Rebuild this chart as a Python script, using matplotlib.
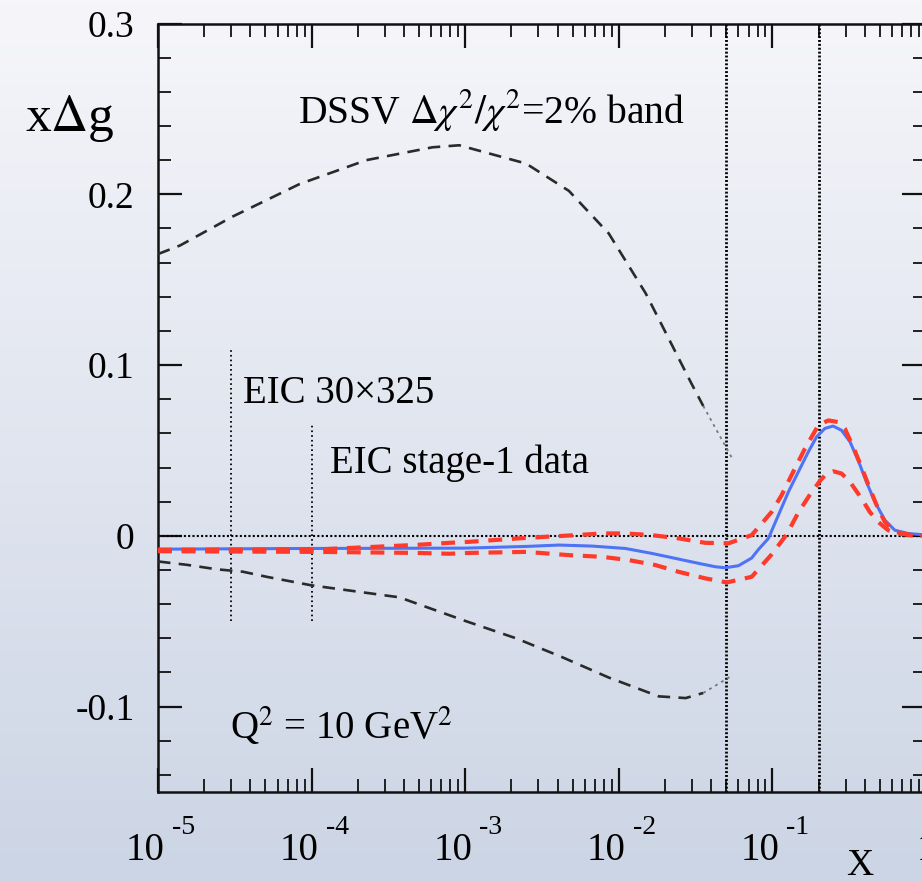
import numpy as np
import matplotlib
matplotlib.use("Agg")
import matplotlib.pyplot as plt
from matplotlib import transforms
from matplotlib.ticker import LogLocator, MultipleLocator, FixedLocator, NullFormatter

plt.rcParams['font.family'] = ['Liberation Serif', 'DejaVu Serif']
plt.rcParams['mathtext.fontset'] = 'stix'
plt.rcParams['lines.scale_dashes'] = False

# ---------------- data (x given as log10(x)) ----------------
upper_dssv_logx = [-5.0, -4.857, -4.513, -4.078, -3.643, -3.214, -3.039, -2.604,
                   -2.325, -2.065, -1.825, -1.740, -1.526, -1.45, -1.266]
upper_dssv_y = [0.165, 0.170, 0.187, 0.206, 0.220, 0.2275, 0.2287, 0.218,
                0.202, 0.177, 0.142, 0.127, 0.089, 0.076, 0.046]

lower_dssv_logx = [-5.0, -4.81, -4.617, -4.448, -4.292, -4.0, -3.429, -2.994,
                   -2.669, -2.370, -2.065, -1.740, -1.565, -1.45, -1.266]
lower_dssv_y = [-0.015, -0.017, -0.0196, -0.021, -0.024, -0.029, -0.036, -0.050,
                -0.060, -0.071, -0.083, -0.094, -0.095, -0.092, -0.082]

central_logx = [-5.0, -4.0, -3.0, -2.6, -2.390, -2.173, -1.957, -1.784, -1.632,
                -1.481, -1.372, -1.307, -1.221, -1.135, -1.091, -1.026, -0.961,
                -0.896, -0.831, -0.766, -0.712, -0.658, -0.605, -0.550, -0.495,
                -0.442, -0.388, -0.333, -0.268, -0.203, -0.117, 0.0]
central_y = [-0.0078, -0.0074, -0.0072, -0.0062, -0.0054, -0.0060, -0.0074, -0.0103,
             -0.0132, -0.0161, -0.0181, -0.0187, -0.0175, -0.0130, -0.0080, -0.0015,
             0.0121, 0.0257, 0.0375, 0.0492, 0.0580, 0.0629, 0.0643, 0.0618, 0.0551,
             0.0443, 0.0316, 0.0199, 0.0092, 0.0033, 0.0014, 0.0005]

eic_upper_logx = [-5.0, -3.968, -3.318, -3.104, -2.974, -2.604, -2.281, -2.108,
                  -1.957, -1.784, -1.610, -1.437, -1.286, -1.135, -1.005, -0.940,
                  -0.865, -0.788, -0.701, -0.636, -0.571, -0.528, -0.474, -0.420,
                  -0.366, -0.312, -0.268, -0.203, -0.1, 0.0]
eic_upper_y = [-0.0082, -0.0080, -0.0053, -0.0041, -0.0035, -0.0012, 0.0004, 0.0014,
               0.0014, 0.0004, -0.0015, -0.0041, -0.0044, 0.0004, 0.0140, 0.0238,
               0.0374, 0.0511, 0.0647, 0.0676, 0.0666, 0.0627, 0.0520, 0.0403,
               0.0277, 0.0160, 0.0082, 0.0023, 0.0005, 0.0]

eic_lower_logx = [-5.0, -3.968, -3.318, -3.104, -2.974, -2.604, -2.325, -2.108,
                  -1.935, -1.762, -1.610, -1.437, -1.297, -1.135, -1.006, -0.907,
                  -0.831, -0.755, -0.690, -0.647, -0.604, -0.550, -0.495, -0.420,
                  -0.366, -0.312, -0.247, -0.182, -0.1, 0.0]
eic_lower_y = [-0.0090, -0.0094, -0.0100, -0.0105, -0.0100, -0.0094, -0.0113, -0.0123,
               -0.0142, -0.0171, -0.0211, -0.0249, -0.0273, -0.0240, -0.0110, 0.0008,
               0.0137, 0.0242, 0.0322, 0.0365, 0.0378, 0.0365, 0.0316, 0.0219,
               0.0140, 0.0082, 0.0033, 0.0014, 0.0004, 0.0]

# x-range markers
full_lines_x = [0.05, 0.2]
eic_markers_x = [3e-5, 1e-4]
eic_markers_top = [0.109, 0.065]
eic_markers_bottom = [-0.05, -0.05]

x_major_ticks = [1e-5, 1e-4, 1e-3, 1e-2, 1e-1, 1.0]
x_tick_exponents = ['-5', '-4', '-3', '-2', '-1', None]
y_major_ticks = [-0.1, 0.0, 0.1, 0.2, 0.3]
y_tick_labels = ['-0.1', '0', '0.1', '0.2', '0.3']

# ---------------- figure ----------------
W, H = 922, 882
fig = plt.figure(figsize=(W / 100, H / 100), dpi=100)

# background gradient
bg = fig.add_axes([0, 0, 1, 1], zorder=-10)
top_c = np.array([246, 246, 250]) / 255.0
bot_c = np.array([204, 213, 229]) / 255.0
t = np.linspace(0, 1, 256)[:, None]
grad = (1 - t) * top_c + t * bot_c
bg.imshow(grad[:, None, :], aspect='auto', extent=[0, 1, 0, 1])
bg.axis('off')

left_px, right_px, top_px, bottom_px = 158, 926, 23.5, 792
ax = fig.add_axes([left_px / W, (H - bottom_px) / H,
                   (right_px - left_px) / W, (bottom_px - top_px) / H])
ax.set_facecolor('none')
ax.set_xscale('log')
ax.set_xlim(1e-5, 1.0)
ax.set_ylim(-0.15, 0.3)

for s in ax.spines.values():
    s.set_linewidth(1.8)
    s.set_color('#111111')

ax.xaxis.set_major_locator(FixedLocator(x_major_ticks))
ax.xaxis.set_minor_locator(LogLocator(base=10, subs=np.arange(2, 10)))
ax.xaxis.set_major_formatter(NullFormatter())
ax.xaxis.set_minor_formatter(NullFormatter())
ax.yaxis.set_major_locator(FixedLocator(y_major_ticks))
ax.yaxis.set_minor_locator(MultipleLocator(0.02))
ax.set_yticklabels(y_tick_labels)

ax.tick_params(which='both', direction='in', top=True, right=True, color='#111111')
ax.tick_params(which='major', length=17, width=1.6)
ax.tick_params(which='minor', length=9.5, width=1.3)
ax.tick_params(axis='y', which='major', labelsize=27, pad=17)

# reference lines
ax.axhline(0, color='black', lw=1.5, ls=(0, (1.5, 1.6)), zorder=2)
for xv in full_lines_x:
    ax.axvline(xv, color='black', lw=2.0, ls=(0, (1.4, 1.4)), zorder=2)
for xv, y0, y1 in zip(eic_markers_x, eic_markers_bottom, eic_markers_top):
    ax.plot([xv, xv], [y0, y1], color='black', lw=1.3, ls=(0, (1.2, 2.2)), zorder=2)

# DSSV band (dashed black, lighter tail)
ux = 10 ** np.array(upper_dssv_logx)
uy = np.array(upper_dssv_y)
lx = 10 ** np.array(lower_dssv_logx)
ly = np.array(lower_dssv_y)
ax.plot(ux[:-1], uy[:-1], color='#2a2a2a', lw=1.9, dashes=(9, 6), zorder=3)
ax.plot(ux[-2:], uy[-2:], color='#777777', lw=1.3, dashes=(2, 3), zorder=3)
ax.plot(lx[:-1], ly[:-1], color='#2a2a2a', lw=1.9, dashes=(9, 6), zorder=3)
ax.plot(lx[-2:], ly[-2:], color='#777777', lw=1.3, dashes=(2, 3), zorder=3)

# central fit
ax.plot(10 ** np.array(central_logx), central_y, color='#4f73f5', lw=2.2, zorder=4,
        solid_joinstyle='round')

# EIC band
ax.plot(10 ** np.array(eic_upper_logx), eic_upper_y, color='#ff3a2a', lw=3.0,
        dashes=(10, 7), zorder=5)
ax.plot(10 ** np.array(eic_lower_logx), eic_lower_y, color='#ff3a2a', lw=3.0,
        dashes=(10, 7), zorder=5)

# texts
ax.text(10 ** -4.091, 0.2415, r'DSSV $\Delta\chi^{2}/\chi^{2}$=2% band',
        fontsize=28.5, va='baseline', ha='left')
ax.text(10 ** -4.448, 0.0778, 'EIC 30\u00d7325', fontsize=28, va='baseline', ha='left')
ax.text(10 ** -3.877, 0.0368, 'EIC stage-1 data', fontsize=28, va='baseline', ha='left')
ax.text(10 ** -4.532, -0.119, r'Q$^{2}$ = 10 GeV$^{2}$', fontsize=28, va='baseline', ha='left')

fig.text(25 / W, 1 - 131 / H, r'x$\Delta$g', fontsize=37, va='baseline', ha='left')
fig.text(860 / W, 1 - 875 / H, 'X', fontsize=27, va='baseline', ha='center')

# x tick labels (ROOT-like: base and raised exponent)
blend = transforms.blended_transform_factory(ax.transData, ax.transAxes)
for xv, ex in zip(x_major_ticks, x_tick_exponents):
    if ex is None:
        tr = transforms.offset_copy(blend, fig=fig, x=0, y=-68, units='dots')
        ax.text(xv, 0, '1', transform=tr, fontsize=28, ha='center', va='baseline',
                clip_on=False)
        continue
    tr1 = transforms.offset_copy(blend, fig=fig, x=7, y=-68, units='dots')
    ax.text(xv, 0, '10', transform=tr1, fontsize=28, ha='right', va='baseline',
            clip_on=False)
    tr2 = transforms.offset_copy(blend, fig=fig, x=14, y=-42, units='dots')
    ax.text(xv, 0, ex, transform=tr2, fontsize=20, ha='left', va='baseline',
            clip_on=False)

fig.savefig('out.png', dpi=100)
